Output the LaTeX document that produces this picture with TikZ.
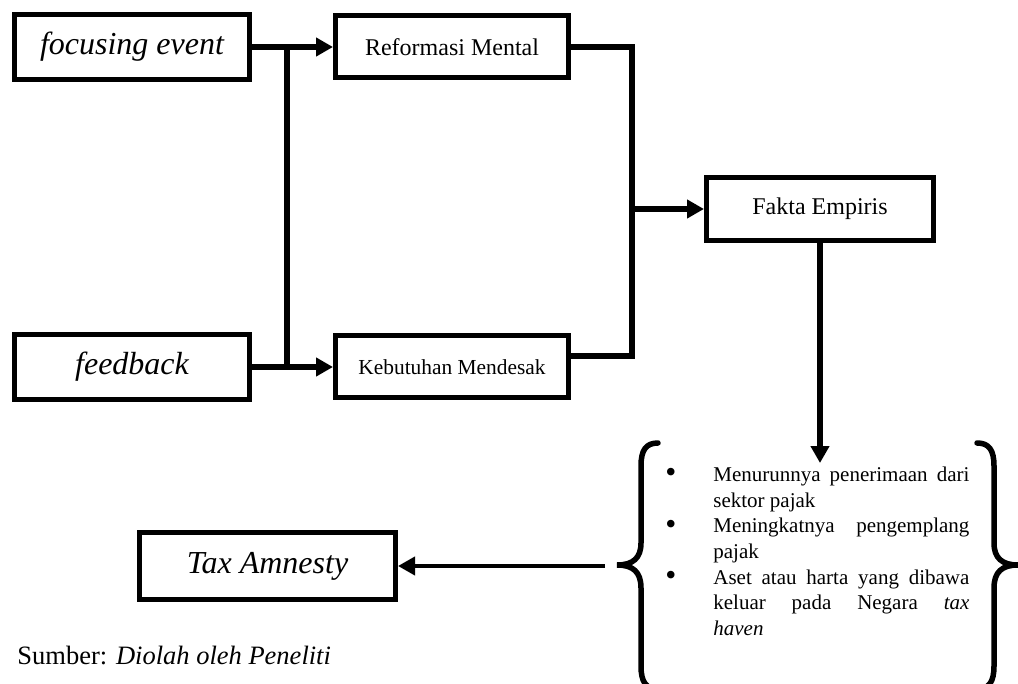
\documentclass[tikz,border=0pt]{standalone}
\usepackage{fontspec}
\usepackage{graphicx}
\setmainfont{Liberation Serif}
\usetikzlibrary{arrows.meta}
\tikzstyle{inbox} = [rectangle, 
minimum width=117.5pt, 
minimum height=32.5pt,
text centered, 
draw=black, 
line width=2.5pt,
font=\fontsize{16}{19}\selectfont\itshape]
\tikzstyle{process} = [rectangle, 
minimum width=116.5pt, 
minimum height=31pt, 
text centered, 
draw=black, 
line width=2.5pt,
font=\fontsize{12}{14}\selectfont]
\tikzstyle{link} = [line width=2.75pt]
\tikzstyle{arrow} = [line width=2.75pt, -{Triangle[length=8.5pt,width=9pt]}]
\tikzstyle{brace} = [line width=2.75pt, line cap=round]
\newcommand{\listdot}{\raisebox{-0.8pt}{\scalebox{1.5}{\textbullet}}}

\begin{document}
\begin{tikzpicture}[x=0.5pt, y=-0.5pt, node distance=160pt]
\useasboundingbox (0,0) rectangle (1018,684);

\node (focus) [inbox] at (132,47) {focusing event};
\node (feedback) [inbox, below of=focus] {feedback};

\node (reform) [process, right of=focus] {Reformasi Mental};
\node (need) [process, below of=reform, font=\fontsize{10.7}{13}\selectfont] 
             {Kebutuhan Mendesak};
\node (fakta) [process, right of=reform, xshift=24pt, yshift=-81pt,
               minimum width=113.5pt, minimum height=31.5pt] {Fakta Empiris};

\node (amnesty) [inbox, below of=feedback, xshift=67.75pt, yshift=60.5pt,
                 minimum width=128pt, minimum height=33.5pt] {Tax Amnesty};

\node (causes) [anchor=north west, inner sep=0pt, 
                font=\fontsize{10.5}{12.85}\selectfont] at (660,463)
{\begin{tabular}{@{\hspace{2.5pt}}p{24pt}@{}l@{}}
\listdot & \makebox[128pt][s]{Menurunnya penerimaan dari}\\
 & sektor pajak\\
\listdot & \makebox[128pt][s]{Meningkatnya pengemplang}\\
 & pajak\\
\listdot & \makebox[128pt][s]{Aset atau harta yang dibawa}\\
 & \makebox[128pt][s]{keluar pada Negara \textit{tax}}\\
 & \textit{haven}
\end{tabular}};

\node (note) [anchor=west, inner sep=0pt, font=\fontsize{13.25}{16}\selectfont] 
             at (17,655) {Sumber: \textit{Diolah oleh Peneliti}};

% braces round the list
\draw [brace] (658,443) .. controls (646,443) and (641,450) .. (641,466) -- (641,543)
  .. controls (641,558) and (633,565) .. (617,565)
  .. controls (633,565) and (641,572) .. (641,588) -- (641,666)
  .. controls (641,682) and (646,689) .. (658,689);
\draw [brace] (977,443) .. controls (989,443) and (994,450) .. (994,466) -- (994,543)
  .. controls (994,558) and (1002,565) .. (1018,565)
  .. controls (1002,565) and (994,572) .. (994,588) -- (994,666)
  .. controls (994,682) and (989,689) .. (977,689);

\coordinate (join) at (287,0);
\coordinate (merge) at (632,0);
\coordinate (need_out) at ([yshift=5.5pt]need.east);
\coordinate (brace_tip) at (605,566);

\draw [arrow] (focus) -- (reform);
\draw [arrow] (feedback) -- (need);
\draw [link] (focus -| join) -- (feedback -| join);
\draw [link] (reform.east) -- (reform.east -| merge) -- (need_out -| merge) -- (need_out);
\draw [arrow] (fakta.west -| merge) -- (fakta.west);
\draw [arrow] (fakta) -- (fakta |- causes.north);
\draw [arrow, line width=2pt] (brace_tip) -- (amnesty);

\end{tikzpicture}
\end{document}
